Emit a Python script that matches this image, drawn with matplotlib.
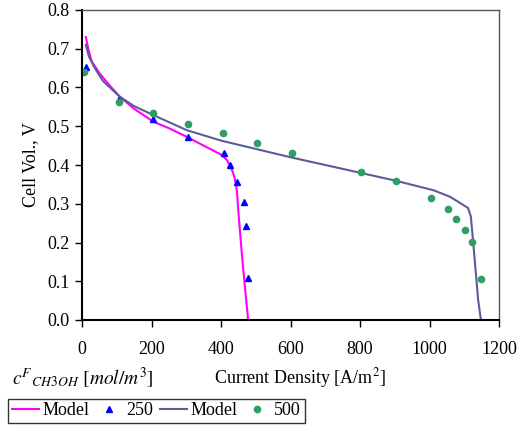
import numpy as np
import matplotlib.pyplot as plt

plt.rcParams['font.family'] = ['Liberation Serif', 'DejaVu Serif']
plt.rcParams['mathtext.fontset'] = 'stix'

# model curves
model_250_x = [11, 18, 28, 52, 80, 109, 150, 205, 250, 301, 350, 400, 417, 430, 439, 444, 447, 449, 455, 462, 470, 478]
model_250_y = [0.73, 0.70, 0.667, 0.635, 0.605, 0.576, 0.545, 0.512, 0.495, 0.473, 0.45, 0.427, 0.413, 0.392, 0.368, 0.345, 0.32, 0.29, 0.225, 0.15, 0.075, 0.0]
model_500_x = [11, 20, 37, 60, 109, 150, 205, 301, 400, 493, 600, 700, 800, 900, 1011, 1059, 1088, 1111, 1119, 1126, 1140, 1148]
model_500_y = [0.71, 0.68, 0.65, 0.617, 0.576, 0.552, 0.529, 0.49, 0.463, 0.443, 0.42, 0.40, 0.38, 0.36, 0.335, 0.318, 0.302, 0.289, 0.267, 0.198, 0.052, 0.0]

# experimental points
exp_250_x = [11, 106, 205, 306, 409, 426, 447, 465, 471, 479]
exp_250_y = [0.653, 0.57, 0.518, 0.472, 0.432, 0.40, 0.355, 0.305, 0.243, 0.108]
exp_500_x = [6, 106, 205, 306, 405, 505, 605, 803, 905, 1004, 1052, 1076, 1102, 1121, 1148]
exp_500_y = [0.641, 0.563, 0.535, 0.505, 0.482, 0.458, 0.432, 0.381, 0.359, 0.316, 0.286, 0.261, 0.232, 0.202, 0.105]

fig = plt.figure(figsize=(5.17, 4.25), dpi=100)
ax = fig.add_axes([82/517, 105/425, 417/517, 310/425])

l1, = ax.plot(model_250_x, model_250_y, color='#ff00ff', lw=1.5)
p1, = ax.plot(exp_250_x, exp_250_y, '^', color='#0000ff', ms=5, ls='none')
l2, = ax.plot(model_500_x, model_500_y, color='#5c5c99', lw=1.5)
p2, = ax.plot(exp_500_x, exp_500_y, 'o', color='#2e9e64', ms=4.5, ls='none')

ax.set_xlim(0, 1200)
ax.set_ylim(0, 0.8)
ax.set_xticks(np.arange(0, 1201, 200))
ax.set_yticks(np.arange(0, 0.81, 0.1))
ax.set_yticklabels([f'{v:.1f}' for v in np.arange(0, 0.81, 0.1)])
ax.tick_params(direction='out', length=5, width=1, labelsize=13, colors='black', pad=10)
ax.tick_params(axis='y', pad=4)
for s in ['left', 'bottom']:
    ax.spines[s].set_color('black')
    ax.spines[s].set_linewidth(1.5)
for s in ['top', 'right']:
    ax.spines[s].set_color('#555555')
    ax.spines[s].set_linewidth(1)

ax.set_ylabel('Cell Vol., V', fontsize=13, labelpad=6)

fig.text(12/517, 1 - 378/425, r'$c^{F}{}_{CH3OH}\ [mol/m^{3}]$', fontsize=14, va='center', ha='left')
fig.text(300/517, 1 - 378/425, r'Current Density [A/m$^{2}$]', fontsize=13, va='center', ha='center')

leg = fig.legend([l1, p1, l2, p2], ['Model', '250', 'Model', '500'], ncol=4,
                 loc='lower left', bbox_to_anchor=(8/517, 2/425), fontsize=13,
                 frameon=True, fancybox=False, edgecolor='black', handlelength=1.5,
                 columnspacing=0.35, handletextpad=0.2, borderpad=0.2, borderaxespad=0)
leg.get_frame().set_linewidth(1)

fig.savefig('out.png', dpi=100)
